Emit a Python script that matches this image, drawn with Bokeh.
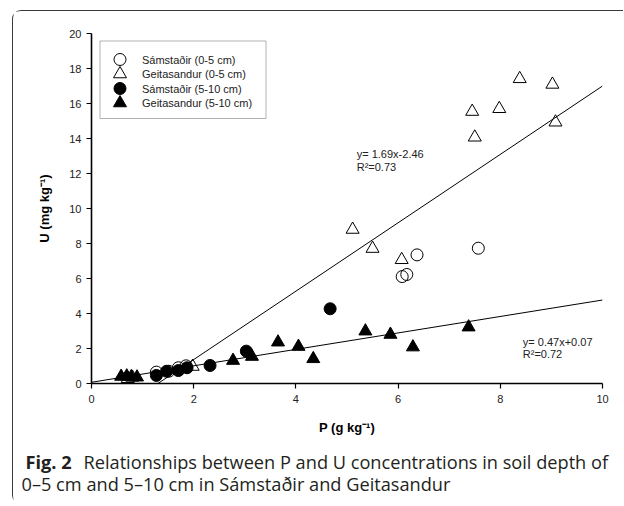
from bokeh.plotting import figure
from bokeh.layouts import column, row
from bokeh.models import Range1d, Label, BoxAnnotation, FixedTicker
from bokeh.embed import file_html
from bokeh.resources import INLINE

# ---- data ----
sam_05_p = [1.27, 1.51, 1.70, 1.85, 6.08, 6.17, 6.37, 7.57]
sam_05_u = [0.65, 0.70, 0.90, 1.01, 6.11, 6.23, 7.35, 7.73]
gei_05_p = [0.71, 0.80, 1.98, 5.11, 5.50, 6.07, 7.45, 7.50, 7.98, 8.38, 9.02, 9.08]
gei_05_u = [0.27, 0.35, 0.97, 8.80, 7.71, 7.07, 15.54, 14.07, 15.70, 17.41, 17.09, 14.93]
sam_510_p = [1.27, 1.47, 1.70, 1.87, 2.32, 3.03, 4.67]
sam_510_u = [0.46, 0.70, 0.74, 0.90, 1.03, 1.85, 4.27]
gei_510_p = [0.58, 0.69, 0.78, 0.89, 2.77, 3.14, 3.65, 4.05, 4.34, 5.36, 5.85, 6.29, 7.38]
gei_510_u = [0.40, 0.42, 0.38, 0.36, 1.31, 1.54, 2.36, 2.11, 1.41, 2.99, 2.80, 2.08, 3.22]

fit_05_p = [1.30, 10.0]
fit_05_u = [0.0, 17.0]
fit_510_p = [0.0, 10.0]
fit_510_u = [0.07, 4.77]

x_ticks = [0, 2, 4, 6, 8, 10]
y_ticks = [0, 2, 4, 6, 8, 10, 12, 14, 16, 18, 20]

legend_labels = ["Sámstaðir (0-5 cm)", "Geitasandur (0-5 cm)",
                 "Sámstaðir (5-10 cm)", "Geitasandur (5-10 cm)"]
eq_05 = ["y= 1.69x-2.46", "R²=0.73"]
eq_510 = ["y= 0.47x+0.07", "R²=0.72"]
caption_bold = "Fig. 2"
caption_1 = "Relationships between P and U concentrations in soil depth of"
caption_2 = "0–5 cm and 5–10 cm in Sámstaðir and Geitasandur"

FONT = "Liberation Sans"
CAP_FONT = "Open Sans"
CAP_SIZE = "18.2px"
CAP_COLOR = "#231f20"
TXT_COLOR = "#222222"

# marker styles per series (same order as legend_labels)
styles = [dict(marker="circle", size=12, fill_color=None),
          dict(marker="triangle", size=13, fill_color=None),
          dict(marker="circle", size=12, fill_color="black"),
          dict(marker="triangle", size=13, fill_color="black")]

# ---- main chart ----
X0, X1, Y0, Y1 = 0, 10, 0, 20
FW, FH = 511, 350           # frame size in px
p = figure(width=610, height=427, x_range=Range1d(X0, X1), y_range=Range1d(Y0, Y1),
           output_backend="svg", toolbar_location=None,
           min_border_left=78, min_border_right=21, min_border_top=22, min_border_bottom=55)
p.outline_line_color = None
p.grid.visible = False
p.background_fill_color = "white"
p.border_fill_color = "white"

for ax, ticks in ((p.xaxis[0], x_ticks), (p.yaxis[0], y_ticks)):
    ax.ticker = FixedTicker(ticks=ticks)
    ax.minor_tick_line_color = None
    ax.axis_line_width = 1.6
    ax.axis_line_color = "black"
    ax.major_tick_in = 0
    ax.major_tick_out = 5
    ax.major_tick_line_color = "black"
    ax.major_tick_line_width = 1.2
    ax.major_label_text_font = FONT
    ax.major_label_text_font_size = "11px"
    ax.major_label_text_color = TXT_COLOR
    ax.axis_label_text_font = FONT
    ax.axis_label_text_font_size = "13px"
    ax.axis_label_text_font_style = "bold"
    ax.axis_label_text_color = "black"

p.xaxis.axis_label = "P (g kg⁻¹)"
p.yaxis.axis_label = "U (mg kg⁻¹)"
p.xaxis.major_label_standoff = 6
p.yaxis.major_label_standoff = 5
p.xaxis.axis_label_standoff = 14
p.yaxis.axis_label_standoff = 14

p.line(fit_05_p, fit_05_u, line_color="black", line_width=1)
p.line(fit_510_p, fit_510_u, line_color="black", line_width=1)

series = [(sam_05_p, sam_05_u), (gei_05_p, gei_05_u),
          (sam_510_p, sam_510_u), (gei_510_p, gei_510_u)]
for (xs, ys), st in zip(series, styles):
    p.scatter(xs, ys, line_color="black", line_width=1, **st)

def lbl(fig, x, y, t, font=FONT, size="11px", style="normal", color=TXT_COLOR):
    fig.add_layout(Label(x=x, y=y, text=t, text_font=font, text_font_size=size,
                         text_font_style=style, text_color=color,
                         text_baseline="middle", text_align="left"))

lbl(p, 5.19, 13.14, eq_05[0])
lbl(p, 5.19, 12.36, eq_05[1])
lbl(p, 8.44, 2.40, eq_510[0])
lbl(p, 8.44, 1.66, eq_510[1])

# ---- legend key (layout in px from the frame's top-left corner) ----
def fx(px):  # px offset from frame left -> data x
    return X0 + px * (X1 - X0) / FW

def fy(py):  # px offset from frame top -> data y
    return Y1 - py * (Y1 - Y0) / FH

LEG_L, LEG_T, LEG_R, LEG_B = 8.5, 7.5, 174.5, 85.0
LEG_KEY_X, LEG_TXT_X = 28.5, 50.5
LEG_ROWS = [26.0, 40.5, 55.0, 69.5]
p.add_layout(BoxAnnotation(left=fx(LEG_L), right=fx(LEG_R), top=fy(LEG_T), bottom=fy(LEG_B),
                           fill_color="white", fill_alpha=1, line_color="black",
                           line_width=1, level="annotation"))
for lab, st, ry in zip(legend_labels, styles, LEG_ROWS):
    p.scatter([fx(LEG_KEY_X)], [fy(ry)], line_color="black", line_width=1,
              level="overlay", **st)
    lbl(p, fx(LEG_TXT_X), fy(ry), lab)

# ---- caption strip (pixel-like coordinates) ----
cap = figure(width=610, height=66, x_range=Range1d(0, 610), y_range=Range1d(0, 66),
             output_backend="svg", toolbar_location=None,
             min_border=0, min_border_left=0, min_border_right=0,
             min_border_top=0, min_border_bottom=0)
cap.axis.visible = False
cap.grid.visible = False
cap.outline_line_color = None
cap.background_fill_color = "white"
cap.border_fill_color = "white"

lbl(cap, 12.0, 42.5, caption_bold, font=CAP_FONT, size=CAP_SIZE, style="bold", color=CAP_COLOR)
lbl(cap, 70.0, 42.5, caption_1, font=CAP_FONT, size=CAP_SIZE, color=CAP_COLOR)
lbl(cap, 8.0, 21.0, caption_2, font=CAP_FONT, size=CAP_SIZE, color=CAP_COLOR)

layout = column(p, row(cap), spacing=0, margin=(10, 0, 0, 12),
                styles={"border-left": "1.5px solid #3a3a3a",
                        "border-top": "1.5px solid #3a3a3a",
                        "border-top-left-radius": "9px",
                        "border-bottom-left-radius": "9px",
                        "background-color": "white"})

open("out.html", "w").write(file_html(layout, INLINE))
